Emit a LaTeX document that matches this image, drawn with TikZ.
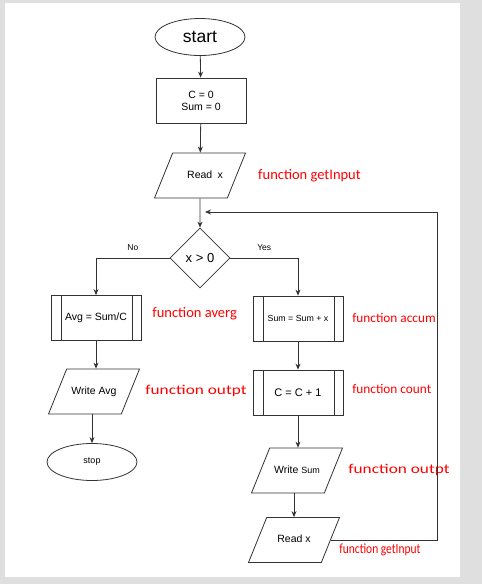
\documentclass[tikz,border=0pt]{standalone}
\usepackage{fontspec}
\setmainfont{Liberation Sans}
\newfontfamily\labfont{Carlito}
\usetikzlibrary{positioning, shapes.geometric, arrows.meta}

\newcommand{\widelab}[1]{\scalebox{1.28}[1]{#1}}
\newcommand{\narrowlab}[1]{\scalebox{0.82}[1]{#1}}

\tikzset{
    term/.style={ellipse, draw, minimum width=90pt, minimum height=37pt, inner sep=0pt},
    proc/.style={rectangle, draw, minimum width=90pt, minimum height=45pt, align=center, inner sep=0pt},
    subproc/.style={proc, path picture={
        \draw[black!80, line width=0.8pt] ([xshift=10pt]path picture bounding box.north west) -- ([xshift=10pt]path picture bounding box.south west)
        ([xshift=-9pt]path picture bounding box.north east) -- ([xshift=-9pt]path picture bounding box.south east);}},
    inout/.style={trapezium, trapezium left angle=68, trapezium right angle=112, trapezium stretches body, draw,
        text height=8pt, text depth=2.5pt, inner xsep=2pt, inner ysep=17.25pt, minimum width=91pt},
    decide/.style={diamond, draw, minimum width=60pt, minimum height=60pt, inner sep=0pt},
    fnlabel/.style={text=red, inner sep=0pt, font=\labfont\fontsize{14.5}{16}\selectfont},
}

\begin{document}
\begin{tikzpicture}[x=1pt, y=-1pt, line width=0.8pt, draw=black!80, >={Stealth[length=6pt, width=5pt]}]
        \fill[gray!25] (0,0) rectangle (482,584);
        \fill[white] (5,3) rectangle (460,577);
        %---------------------------
        \node[term, font=\fontsize{17.5}{20}\selectfont] (start) at (200,37) {start};
        \node[proc, font=\fontsize{10.5}{12}\selectfont] (init) at (201,100.5) {C = 0\\Sum = 0};
        \node[inout, font=\fontsize{10.5}{12}\selectfont] (readA) at (200,175.5) {\hspace{10pt}Read\enspace x};
        \node[decide, font=\fontsize{13}{15}\selectfont] (test) at (200,258) {x > 0};
        \node[subproc, font=\fontsize{10.5}{12}\selectfont] (avg) at (96,318) {Avg = Sum/C};
        \node[subproc, font=\fontsize{8.8}{10}\selectfont] (sum) at (298,318.5) {Sum = Sum + x};
        \node[inout, font=\fontsize{10.5}{12}\selectfont] (wavg) at (94,391.5) {Write Avg};
        \node[subproc, font=\fontsize{11}{13}\selectfont] (count) at (298,392.5) {C = C + 1};
        \node[term, font=\fontsize{9}{10}\selectfont] (stop) at (92,462) {stop};
        \node[inout, font=\fontsize{10.5}{12}\selectfont] (wsum) at (297,470.5) {Write {\fontsize{9}{10}\selectfont Sum}};
        \node[inout, font=\fontsize{10.5}{12}\selectfont] (readB) at (294,540) {Read x};
        \coordinate (loopin) at (205,212);
        \coordinate (loopr) at (437,212);
        %---------------------------
        \node[fnlabel, right=21pt of readA] (getA) {function getInput};
        \node[fnlabel, anchor=west] (averg) at (152,314) {function averg};
        \node[fnlabel, anchor=west, font=\labfont\fontsize{13.3}{15}\selectfont] (accum) at (352,318) {function accum};
        \node[fnlabel, anchor=west, font=\labfont\fontsize{13.5}{15}\selectfont] (outA) at (145,391) {\widelab{function outpt}};
        \node[fnlabel, anchor=west, font=\labfont\fontsize{13.3}{15}\selectfont] (cnt) at (352,389) {function count};
        \node[fnlabel, anchor=west, font=\labfont\fontsize{13.5}{15}\selectfont] (outB) at (348,470) {\widelab{function outpt}};
        \node[fnlabel, anchor=west, font=\labfont\fontsize{14}{16}\selectfont] (getB) at (339,550) {\narrowlab{function getInput}};
        %--------------------------
        \path[->]
        (start) edge (init)
        (init) edge (readA)
        (readA) edge (test)
        (sum) edge (count)
        (avg.south) edge (avg.south |- wavg.north)
        (stop.north |- wavg.south) edge (stop.north)
        (count.south) edge (count.south |- wsum.north)
        (readB.north |- wsum.south) edge (readB.north);
        \draw[->] (test.west) -| node[pos=0.25, above=4pt, font=\fontsize{8.5}{10}\selectfont] {No} (avg.north);
        \draw[->] (test.east) -| node[pos=0.25, above=4pt, font=\fontsize{8.5}{10}\selectfont] {Yes} (sum.north);
        \draw[->] (readB.east) -| (loopr) -- (loopin);
\end{tikzpicture}
\end{document}
